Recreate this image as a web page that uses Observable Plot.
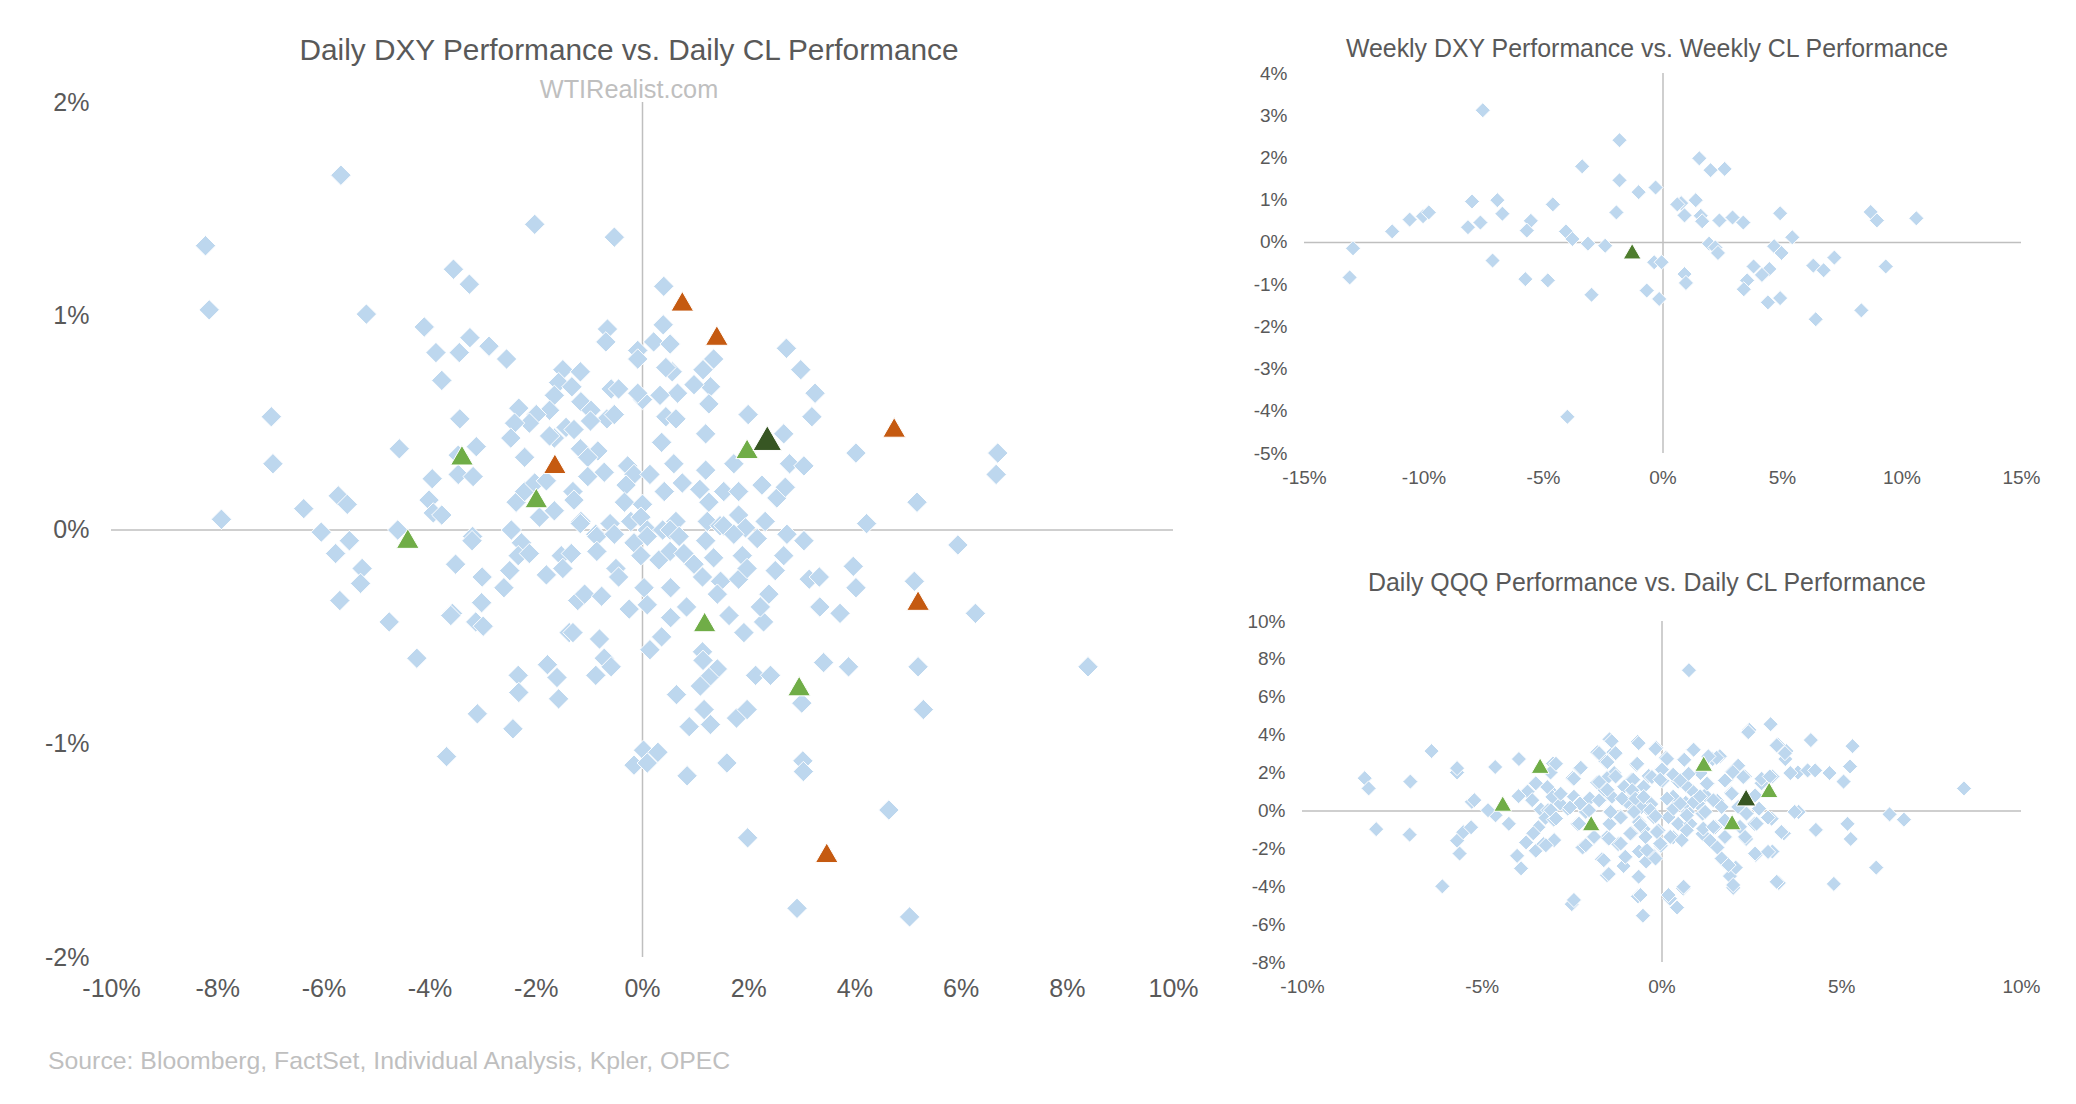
<!DOCTYPE html>
<html><head><meta charset="utf-8">
<script src="https://cdn.jsdelivr.net/npm/d3@7"></script>
<script src="https://cdn.jsdelivr.net/npm/@observablehq/plot@0.6"></script>
<style>
body{margin:0;background:#fff;width:2076px;height:1104px;position:relative;overflow:hidden;font-family:"Liberation Sans",Arial,sans-serif;}
.t{position:absolute;white-space:nowrap;transform:translate(-50%,-50%);line-height:1;}
.chart{position:absolute;}
</style></head><body>
<div class="t" style="left:629px;top:50px;font-size:29.8px;color:#595959">Daily DXY Performance vs. Daily CL Performance</div>
<div class="t" style="left:629px;top:90px;font-size:25.3px;color:#bfbfbf">WTIRealist.com</div>
<div class="t" style="left:1647px;top:48px;font-size:24.9px;color:#595959">Weekly DXY Performance vs. Weekly CL Performance</div>
<div class="t" style="left:1647px;top:582px;font-size:24.9px;color:#595959">Daily QQQ Performance vs. Daily CL Performance</div>
<div class="t" style="left:48px;top:1061px;font-size:24.8px;color:#bfbfbf;transform:translate(0,-50%)">Source: Bloomberg, FactSet, Individual Analysis, Kpler, OPEC</div>
<div id="main" class="chart" style="left:0;top:0"></div>
<div id="weekly" class="chart" style="left:1240px;top:40px"></div>
<div id="qqq" class="chart" style="left:1238px;top:600px"></div>
<script>
// ---- Daily DXY vs Daily CL : [CL %, DXY %]
const dailyDiamonds = [
[-4.11,0.95],[-3.25,0.90],[-3.89,0.83],[-3.45,0.83],[-2.89,0.86],[-2.56,0.80],[-3.78,0.70],
[-0.66,0.94],[-0.69,0.88],[0.39,0.96],[0.21,0.88],[0.52,0.87],[-0.09,0.84],[-0.09,0.80],
[2.71,0.85],[2.98,0.75],[3.25,0.64],[3.19,0.53],[1.34,0.80],[1.14,0.75],[0.56,0.74],[0.44,0.76],[1.28,0.67],[0.97,0.68],[0.66,0.64],[0.33,0.63],[0,0.61],[-0.09,0.64],[1.25,0.59],[0.44,0.53],[0.63,0.52],[1.19,0.45],[0.36,0.41],[1.99,0.54],[2.66,0.45],[4.02,0.36],
[-1.5,0.75],[-1.17,0.74],[-1.58,0.69],[-1.33,0.67],[-1.66,0.63],[-1.16,0.60],[-0.97,0.56],[-1.75,0.56],[-2.0,0.54],[-2.33,0.57],[-2.13,0.50],[-2.41,0.50],[-2.48,0.43],[-0.59,0.66],[-0.45,0.66],[-0.67,0.52],[-0.53,0.54],[-0.98,0.51],[-1.44,0.48],[-1.29,0.47],[-1.66,0.43],[-1.75,0.44],[-1.17,0.38],[-0.84,0.37],[-1.03,0.34],[-2.22,0.34],
[-3.44,0.52],[-3.13,0.39],[-3.47,0.35],[-4.58,0.38],[-3.96,0.24],[-3.47,0.26],[-3.19,0.25],[-4.02,0.14],[-3.94,0.08],[-3.78,0.07],[-4.61,0.0],[-3.20,-0.03],[-2.47,0.0],[-2.38,0.13],[-2.22,0.18],[-2.03,0.22],[-1.81,0.23],[-1.66,0.09],[-1.94,0.06],[-1.31,0.18],[-1.29,0.14],[-1.16,0.04],[-1.03,0.25],[-0.72,0.27],[-0.28,0.30],[-0.16,0.26],[0.14,0.26],[-0.31,0.21],[-0.34,0.13],[0,0.12],[-0.61,0.03],[-0.88,-0.02],[-0.22,0.04],[-0.03,0.06],[0.09,0.0],[0.38,0.0],[0.59,0.31],[0.75,0.22],[0.41,0.18],[0.63,0.04],[1.19,0.28],[1.08,0.19],[1.25,0.13],[1.53,0.18],[1.81,0.18],[2.25,0.21],[2.53,0.15],[2.69,0.20],[2.77,0.31],[3.04,0.30],[1.72,0.31],[1.22,0.04],[1.46,0.02],[1.81,0.07],[1.94,0.01],[2.31,0.04],[2.72,-0.02],[4.22,0.03],
[-3.21,-0.05],[-2.28,-0.06],[-2.34,-0.12],[-2.13,-0.11],[-2.5,-0.19],[-3.52,-0.16],[-3.02,-0.22],[-2.61,-0.27],[-3.03,-0.34],[-3.58,-0.39],[-3.61,-0.40],[-4.77,-0.43],[-4.25,-0.60],[-3.14,-0.43],[-3.0,-0.45],[-1.81,-0.21],[-1.53,-0.12],[-1.50,-0.18],[-1.34,-0.11],[-1.22,-0.33],[-1.09,-0.30],[-0.77,-0.31],[-1.38,-0.48],[-1.31,-0.48],[-0.81,-0.51],[-0.72,-0.60],[-0.59,-0.64],[-0.88,-0.68],[-1.79,-0.63],[-1.61,-0.69],[-2.34,-0.68],[-2.33,-0.76],[-1.58,-0.79],[-3.11,-0.86],[-2.44,-0.93],[-3.69,-1.06],[-1.17,0.03],[-0.86,-0.03],[-0.53,-0.02],[-0.86,-0.10],[-0.5,-0.18],[-0.45,-0.22],[-0.16,-0.06],[0.09,-0.03],[-0.03,-0.12],[0.31,-0.14],[0.52,-0.10],[0.52,0.0],[0.69,-0.03],[0.78,-0.11],[0.97,-0.16],[1.13,-0.22],[1.19,-0.05],[1.34,-0.13],[1.47,-0.24],[1.41,-0.30],[1.53,0.02],[1.72,-0.02],[1.88,-0.12],[2.16,-0.04],[1.81,-0.23],[1.97,-0.18],[3.04,-0.05],[2.66,-0.12],[2.5,-0.19],[3.14,-0.23],[3.33,-0.22],[3.97,-0.17],[4.02,-0.27],[0.03,-0.27],[0.53,-0.27],[0.09,-0.35],[-0.25,-0.37],[0.53,-0.41],[0.83,-0.36],[1.63,-0.40],[1.91,-0.48],[2.28,-0.43],[2.38,-0.30],[2.22,-0.36],[3.34,-0.36],[3.72,-0.39],[0.36,-0.50],[0.14,-0.56],[1.13,-0.57],[1.14,-0.61],[1.41,-0.65],[1.25,-0.69],[1.09,-0.73],[0.64,-0.77],[1.16,-0.84],[1.28,-0.91],[0.88,-0.92],[1.77,-0.88],[1.97,-0.84],[2.13,-0.68],[2.41,-0.68],[3.41,-0.62],[3.88,-0.64],[3.0,-0.81],[0.02,-1.03],[0.29,-1.04],[-0.16,-1.10],[0.09,-1.09],[1.59,-1.09],[3.02,-1.08],
[-8.23,1.33],[-8.16,1.03],[-5.68,1.66],[-2.03,1.43],[-0.53,1.37],[-3.56,1.22],[-3.26,1.15],[0.40,1.14],[-5.20,1.01],[-6.99,0.53],[-6.96,0.31],[-7.93,0.05],[-6.38,0.10],[-6.05,-0.01],[-5.73,0.16],[-5.56,0.12],[-5.52,-0.05],[-5.78,-0.11],[-5.28,-0.18],[-5.31,-0.25],[-5.70,-0.33],
[6.69,0.36],[6.66,0.26],[5.17,0.13],[5.94,-0.07],[5.12,-0.24],[6.27,-0.39],[5.19,-0.64],[5.29,-0.84],[8.39,-0.64],[4.64,-1.31],[1.98,-1.44],[2.91,-1.77],[5.03,-1.81],[3.03,-1.13],[0.84,-1.15]
];
const dailyOrange = [[0.75,1.07],[1.40,0.91],[4.74,0.48],[-1.65,0.31],[5.19,-0.33],[3.47,-1.51]];
const dailyGreen = [[-3.40,0.35],[-2.0,0.15],[-4.42,-0.04],[1.97,0.38],[1.17,-0.43],[2.95,-0.73]];
const dailyHighlight = [[2.35,0.43]];
const dailyXTicks = [-10,-8,-6,-4,-2,0,2,4,6,8,10];
const dailyYTicks = [-2,-1,0,1,2];

// ---- Weekly DXY vs Weekly CL : [CL %, DXY %]
const weeklyDiamonds = [
[-7.54,3.13],[-1.82,2.42],[-3.38,1.80],[-1.82,1.47],[-1.02,1.19],[-0.31,1.30],[1.52,1.99],[1.99,1.71],[2.58,1.74],
[-7.99,0.97],[-6.93,1.00],[-4.61,0.90],[-6.72,0.68],[-7.64,0.47],[-8.16,0.36],[-10.6,0.54],[-10.04,0.62],[-9.8,0.71],[-11.33,0.26],
[-5.53,0.51],[-5.70,0.28],[-4.06,0.26],[-3.79,0.08],[-1.95,0.71],[0.76,0.93],[1.37,1.00],[0.90,0.64],[1.58,0.63],[1.64,0.50],[2.36,0.52],[2.91,0.59],[3.36,0.47],[4.90,0.69],[8.69,0.72],[8.95,0.52],[10.6,0.57],[5.41,0.12],[0.6,0.9],
[-12.97,-0.14],[-13.11,-0.83],[-3.14,-0.03],[-2.42,-0.08],[-7.13,-0.43],[-5.76,-0.87],[-4.82,-0.90],[-2.99,-1.24],[-0.68,-1.14],[-0.16,-1.34],[-0.37,-0.47],[-0.06,-0.47],
[0.90,-0.75],[0.96,-0.96],[1.93,-0.03],[2.19,-0.12],[2.30,-0.25],[4.65,-0.09],[4.96,-0.25],[3.79,-0.57],[4.45,-0.63],[4.14,-0.77],[3.52,-0.90],[3.38,-1.11],[4.39,-1.42],[4.90,-1.32],
[6.29,-0.55],[6.72,-0.66],[7.17,-0.36],[9.32,-0.57],[6.39,-1.82],[8.30,-1.61],[-4.0,-4.13]
];
const weeklyHighlight = [[-1.29,-0.21]];
const weeklyXTicks = [-15,-10,-5,0,5,10,15];
const weeklyYTicks = [-5,-4,-3,-2,-1,0,1,2,3,4];

// ---- Daily QQQ vs Daily CL : [CL %, QQQ %]
const qqqDiamonds = [
[0.75,7.43],[3.02,4.58],[2.43,4.28],[4.14,3.74],[5.30,3.42],[3.22,3.51],[3.46,3.16],[3.43,2.74],[5.23,2.35],[3.78,2.03],[4.05,2.14],[4.26,2.14],[4.66,2.0],[5.05,1.55],[8.40,1.19],
[3.80,-0.05],[6.33,-0.18],[6.73,-0.46],[5.16,-0.68],[4.28,-1.0],[5.25,-1.48],[3.39,-1.18],[3.05,-0.41],[3.07,-2.14],[2.61,-2.32],[5.96,-2.99],[3.25,-3.80],[4.78,-3.85],
[1.98,-4.06],[1.89,-3.44],[2.05,-2.99],[1.72,-2.64],[0.59,-4.10],[0.22,-4.63],[0.42,-5.10],[-0.67,-4.51],[-0.53,-5.53],[-2.51,-4.92],[-1.53,-3.39],[-6.11,-3.98],
[-3.92,-3.03],[-4.03,-2.37],[-3.78,-1.66],[-3.51,-2.10],[-3.30,-1.75],[-5.70,-1.57],[-5.63,-2.25],[-5.53,-1.12],[-5.31,-0.86],[-7.95,-0.96],[-7.02,-1.25],[-4.26,-0.68],[-4.63,-0.23],[-4.84,0.04],[-5.29,0.48],[-5.22,0.57],
[-8.27,1.73],[-8.16,1.19],[-7.0,1.55],[-6.41,3.16],[-5.70,2.03],[-5.70,2.26],[-4.64,2.32],[-3.98,2.74],[-3.03,2.50],[-3.10,2.03],[-3.51,1.46],[-3.74,1.02],[-3.61,0.57],[-3.99,0.78],[-3.37,0.07],[-3.17,0.04],[-3.24,-0.36],[-3.01,-0.46],[-3.44,-0.86],[-3.58,-1.18],
[-2.49,1.73],[-2.28,2.26],[-2.45,0.75],[-2.62,0.12],[-2.31,0.39],[-2.12,-0.05],[-2.35,-0.68],[-1.90,-1.39],[-2.15,-1.84],[-1.67,-2.55],
[-1.46,3.78],[-1.80,3.10],[-1.35,3.10],[-1.57,2.62],[-1.33,2.0],[-1.53,1.73],[-1.80,1.50],[-1.60,1.11],[-1.39,0.75],[-1.73,0.57],[-1.46,-0.05],[-1.15,-0.29],[-1.46,-0.68],[-1.53,-1.39],[-1.22,-1.75],[-1.02,-2.46],[-1.07,-2.91],
[-0.68,3.64],[-0.71,2.44],[-0.16,3.33],[-0.85,1.64],[-0.37,1.85],[0,2.21],[0.11,2.80],[0.01,1.60],[-0.78,0.93],[-0.53,0.75],[-0.92,0.43],[-0.30,0.36],[-0.37,0.04],[-0.23,-0.32],[-0.64,-0.59],[-0.51,-0.95],[-0.85,-1.18],[-0.10,-1.03],[-0.64,-2.14],[-0.23,-2.37],[-0.44,-2.67],[-0.03,-1.84],
[0.31,-1.39],[0.18,-0.32],[0.45,-0.68],[0.72,-0.05],[0.66,0.43],[0.31,0.75],[0.45,1.55],[0.61,2.71],[0.86,3.24],[1.07,2.0],[1.27,1.46],[1.41,2.74],[1.61,2.89],[1.20,0.84],[0.86,1.02],[1.0,0.39],[1.13,-0.14],[0.79,-0.68],[1.13,-1.21],[1.34,-1.57],[1.54,-1.93],[1.75,-1.39],[1.48,-0.86],[1.75,-0.50],[1.54,0.53],[1.79,1.64],[1.95,2.09],[2.12,2.39],[2.30,1.82],[1.93,0.96],[2.12,0.21],[2.36,-0.14],[2.57,-0.68],[2.34,-1.48],[2.70,0.12],[2.77,1.46],[3.07,1.82],
[0.66,1.37],[0.31,1.91],[-0.51,1.28],[-1.05,1.28],[-0.98,0.48],[-0.57,0.21],[-2.21,-1.93],[-2.01,0.66],[-2.99,0.84],[-2.83,0.39],
[-1.40,3.68],[-0.65,3.58],[-0.18,3.28],[-1.75,3.05],[-1.29,3.05],[-1.52,2.58],[-0.69,2.49],[0.14,2.75],[0.62,2.70],[0.88,3.23],[1.52,2.81],[1.29,2.88],[2.40,4.16],[3.19,3.46],[3.42,3.05],[3.57,2.0],
[-2.26,2.28],[-2.45,1.70],[-2.95,2.49],[-1.75,1.53],[-1.29,1.82],[-1.52,1.12],[-0.80,1.65],[-0.28,1.79],[0,2.18],[-0.05,1.65],[0.51,1.61],[0.74,1.96],[1.25,1.44],[1.75,1.61],[1.97,2.05],[2.26,1.79],[1.94,0.91],[2.77,1.70],[3.0,1.82],[2.59,0.82],
[-3.19,1.26],[-3.05,0.74],[-2.82,0.91],[-2.28,0.39],[-2.03,0.04],[-2.56,0.18],[-3.09,0.04],[-2.95,-0.40],[-2.31,-0.67],[-1.75,0.56],[-1.43,-0.05],[-1.11,0.65],[-1.15,-0.35],[-0.83,1.09],[-0.74,0.65],[-0.51,0.74],[-0.78,-0.05],[-0.60,-0.75],[-0.32,0.04],[-0.18,-0.28],
[0.14,0.65],[0.32,0.12],[0.51,0.39],[0.69,-0.23],[0.88,0.47],[1.06,0.77],[1.20,-0.05],[1.43,0.56],[1.66,0.21],[1.15,-0.93],[1.43,-0.84],[1.75,-1.37],[1.66,-2.51],[1.85,-2.86],[1.98,-3.91],[2.31,-1.37],[2.35,-0.14],[2.63,-0.67],[2.95,-0.35],[3.32,-1.11],[2.59,-2.25],[2.95,-2.16],[3.19,-3.74],[3.69,-0.05],
[-1.89,-1.37],[-2.12,-1.81],[-1.48,-1.46],[-1.15,-1.72],[-1.62,-2.60],[-1.48,-3.33],[-1.02,-2.42],[-0.65,-3.47],[-0.42,-2.07],[-0.18,-2.51],[-0.05,-1.72],[0.23,-1.37],[0.55,-1.54],[0.60,-4.0],[0.18,-4.44],[-0.60,-4.44],[-0.88,-1.19],[-0.46,-1.37],[-0.14,-1.11],[0.69,-1.02],[2.17,-0.84],[-3.0,-1.54],[-3.23,-1.81],[-2.45,-4.70]
];
const qqqGreen = [[-3.39,2.39],[-4.43,0.39],[-1.97,-0.64],[1.16,2.50],[1.95,-0.59],[2.98,1.11]];
const qqqHighlight = [[2.34,0.71]];
const qqqXTicks = [-10,-5,0,5,10];
const qqqYTicks = [-8,-6,-4,-2,0,2,4,6,8,10];

const BLUE = "#bdd7ee", ORANGE = "#c55a11", GREEN = "#70ad47", DARK = "#375623", AXIS = "#bfbfbf";
const pct = d => `${d}%`;

function scatter(o) {
  const marks = [
    Plot.ruleX([0], {stroke: AXIS, strokeWidth: 1.5}),
    Plot.ruleY([0], {stroke: AXIS, strokeWidth: 1.5}),
    Plot.axisX({ticks: o.xt, tickSize: 0, tickPadding: o.padX, tickFormat: pct}),
    Plot.axisY({ticks: o.yt, tickSize: 0, tickPadding: o.padY, tickFormat: pct}),
    Plot.dot(o.diamonds, {x: d => d[0], y: d => d[1], symbol: "diamond2", r: o.dr, fill: BLUE, stroke: "#fff", strokeWidth: 1})
  ];
  for (const [data, color, r] of o.tri) {
    // triangles centred on their bounding box, as in the source
    marks.push(Plot.dot(data, {x: d => d[0], y: d => d[1], symbol: "triangle", r, dy: 0.39 * r, fill: color, stroke: "#fff", strokeWidth: 1}));
  }
  return Plot.plot({
    width: o.width, height: o.height,
    marginLeft: o.ml, marginRight: o.mr, marginTop: o.mt, marginBottom: o.mb,
    x: {domain: o.xd}, y: {domain: o.yd},
    style: {fontFamily: "Liberation Sans, Arial, sans-serif", fontSize: o.fs + "px", color: "#595959", background: "transparent", overflow: "visible"},
    marks
  });
}

document.getElementById("main").append(scatter({
  width: 1230, height: 1030, ml: 111, mr: 57, mt: 102, mb: 73,
  xd: [-10, 10], yd: [-2, 2], xt: dailyXTicks, yt: dailyYTicks, fs: 25, padX: 22, padY: 22, dr: 9.2,
  diamonds: dailyDiamonds,
  tri: [[dailyOrange, ORANGE, 8.4], [dailyGreen, GREEN, 8.4], [dailyHighlight, DARK, 10.6]]
}));
document.getElementById("weekly").append(scatter({
  width: 836, height: 470, ml: 64, mr: 55, mt: 33, mb: 57,
  xd: [-15, 15], yd: [-5, 4], xt: weeklyXTicks, yt: weeklyYTicks, fs: 19, padX: 17, padY: 17, dr: 6.8,
  diamonds: weeklyDiamonds,
  tri: [[weeklyHighlight, "#4e7d2e", 6.6]]
}));
document.getElementById("qqq").append(scatter({
  width: 838, height: 420, ml: 64, mr: 55, mt: 21, mb: 58,
  xd: [-10, 10], yd: [-8, 10], xt: qqqXTicks, yt: qqqYTicks, fs: 19, padX: 17, padY: 17, dr: 6.8,
  diamonds: qqqDiamonds,
  tri: [[qqqGreen, GREEN, 6.6], [qqqHighlight, DARK, 7.2]]
}));
</script>
</body></html>
